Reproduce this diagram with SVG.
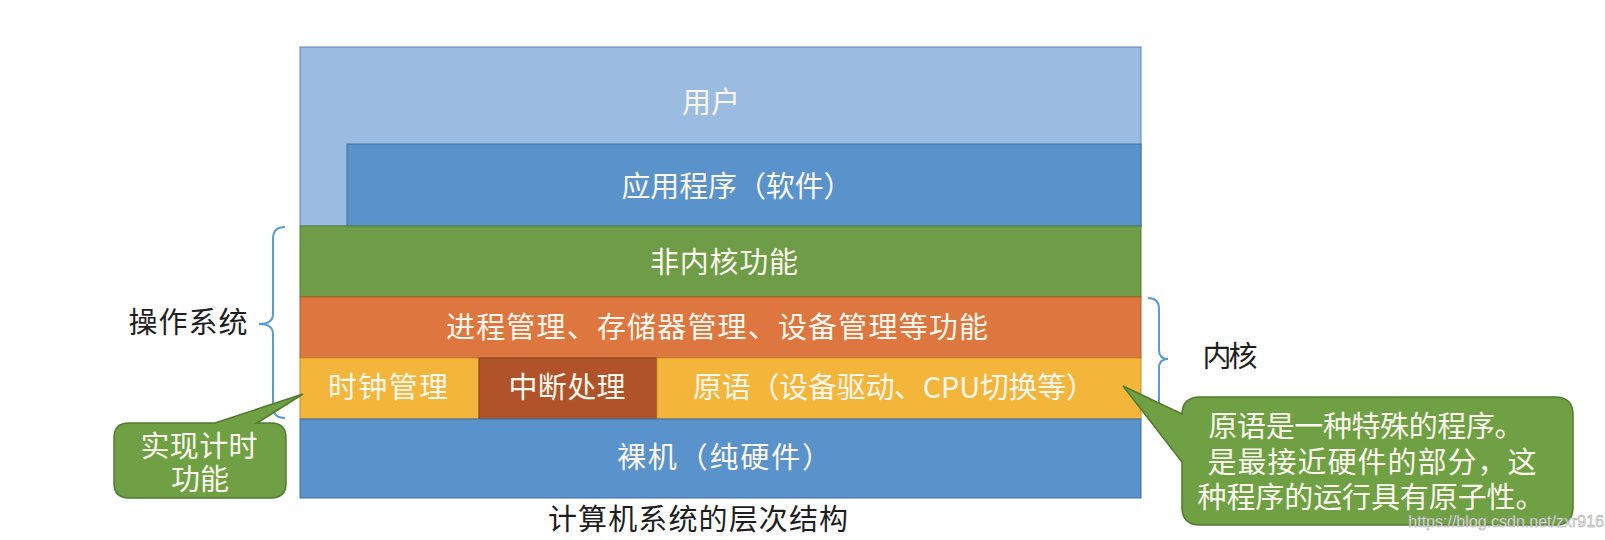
<svg xmlns="http://www.w3.org/2000/svg" width="1605" height="540" viewBox="0 0 1605 540">
<style>
.box{stroke-width:1}
.t{font-family:"Noto Sans CJK SC","Noto Sans",sans-serif;font-size:29px;fill:#FBF7EE;text-anchor:middle}
.d{font-family:"Noto Sans CJK SC","Noto Sans",sans-serif;font-size:29px;fill:#1E1E1E;text-anchor:middle}
.brace{fill:none;stroke:#5B9BD5;stroke-width:2}
.call{fill:#70A044;stroke:#4F7A2E;stroke-width:1.5}
</style>
<rect width="1605" height="540" fill="#FFFFFF"/>
<g id="user">
<rect class="box" x="300" y="47" width="841" height="179" fill="#9ABCE1" stroke="#5C86B8"/>
<text class="t" x="711" y="113">用户</text>
</g>
<g id="apps">
<rect class="box" x="347" y="144" width="794" height="82" fill="#5A93CB" stroke="#3F6F9F"/>
<text class="t" x="737" y="197" textLength="231">应用程序（软件）</text>
</g>
<g id="nonkernel">
<rect class="box" x="300" y="226" width="841" height="71" fill="#6F9C46" stroke="#557A34"/>
<text class="t" x="724" y="273" textLength="148">非内核功能</text>
</g>
<g id="mgmt">
<rect class="box" x="300" y="297" width="841" height="61" fill="#DE7640" stroke="#B35A2C"/>
<text class="t" x="717" y="338" textLength="542">进程管理、存储器管理、设备管理等功能</text>
</g>
<g id="clock">
<rect class="box" x="300" y="358" width="179" height="61" fill="#F3B53A" stroke="#C98E20"/>
<text class="t" x="388" y="398" textLength="120">时钟管理</text>
</g>
<g id="interrupt">
<rect class="box" x="479" y="358" width="178" height="61" fill="#B0522A" stroke="#8A3E1E"/>
<text class="t" x="567" y="398" textLength="117">中断处理</text>
</g>
<g id="primitive">
<rect class="box" x="657" y="358" width="484" height="61" fill="#F3B53A" stroke="#C98E20"/>
<text class="t" x="894" y="398" textLength="402">原语（设备驱动、CPU切换等）</text>
</g>
<g id="hardware">
<rect class="box" x="300" y="419" width="841" height="79" fill="#5A92CB" stroke="#3F6F9F"/>
<text class="t" x="724" y="468" textLength="214">裸机（纯硬件）</text>
</g>
<g id="title">
<text class="d" x="698" y="530" textLength="300">计算机系统的层次结构</text>
</g>
<g id="connectors">
<path class="brace" d="M285,227 Q273,227 273,239 L273,314 Q273,324 259,324 Q273,324 273,334 L273,406 Q273,418 285,418"/>
<path class="brace" d="M1148,298 Q1159,298 1159,309 L1159,350 Q1159,359 1168,359 Q1159,359 1159,368 L1159,408 Q1159,419 1148,419"/>
</g>
<g id="os-label">
<text class="d" x="188" y="333" textLength="119">操作系统</text>
</g>
<g id="kernel-label">
<text class="d" x="1230" y="367" textLength="55">内核</text>
</g>
<g id="callout-clock">
<path class="call" d="M129,423 L215,423 L303,394 L257,423 L271,423 Q286,423 286,438 L286,483 Q286,498 271,498 L129,498 Q114,498 114,483 L114,438 Q114,423 129,423 Z"/>
<text class="t" x="199" y="457" textLength="117">实现计时</text>
<text class="t" x="200" y="490">功能</text>
</g>
<g id="callout-primitive">
<path class="call" d="M1200,397 L1555,397 Q1573,397 1573,415 L1573,507 Q1573,525 1555,525 L1200,525 Q1182,525 1182,507 L1182,462 L1123,386 L1182,414 L1182,415 Q1182,397 1200,397 Z"/>
<text class="t" x="1366" y="437" textLength="315">原语是一种特殊的程序。</text>
<text class="t" x="1372" y="473" textLength="329">是最接近硬件的部分，这</text>
<text class="t" x="1371" y="508" textLength="347">种程序的运行具有原子性。</text>
</g>
<text x="1604" y="527" font-family="Liberation Sans, Arial, sans-serif" font-size="16" fill="#E6E6E6" stroke="#9A9A9A" stroke-width="0.4" text-anchor="end">https://blog.csdn.net/zxr916</text>
</svg>
